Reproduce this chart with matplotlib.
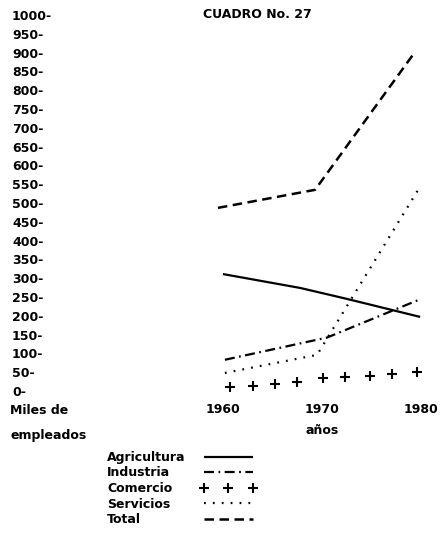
import matplotlib
matplotlib.use('Agg')
import matplotlib.pyplot as plt
from matplotlib.lines import Line2D

plt.rcParams['font.family'] = 'DejaVu Sans'
plt.rcParams['font.weight'] = 'bold'

# values (miles de empleados)
agri_years = [1960, 1967.8, 1972.5, 1979.9]
agri_vals = [311, 274, 245, 197]

ind_years = [1960.2, 1970.5, 1980]
ind_vals = [83, 142, 245]

com_years = [1960.7, 1963.0, 1965.3, 1967.5, 1970.1, 1972.3, 1974.8, 1977.1, 1979.6]
com_vals = [10, 13, 19, 24, 35, 37, 40, 45, 50]

serv_years = [1960.2, 1969.5, 1979.7]
serv_vals = [48, 96, 535]

total_years = [1959.5, 1969.3, 1979.2]
total_vals = [487, 535, 895]

series_names = ['Agricultura', 'Industria', 'Comercio', 'Servicios', 'Total']
x_ticks = [1960, 1970, 1980]
y_ticks = list(range(0, 1001, 50))

fig = plt.figure(figsize=(4.4, 5.41), dpi=100)
ax = fig.add_axes([0.4841, 0.2773, 0.4955, 0.695])

l_agri, = ax.plot(agri_years, agri_vals, color='black', lw=1.6, solid_capstyle='butt')
l_ind, = ax.plot(ind_years, ind_vals, color='black', lw=1.6,
                 linestyle=(0, (4.5, 2.0, 0.8, 2.0)))
l_com, = ax.plot(com_years, com_vals, color='black', linestyle='none',
                 marker='+', markersize=6.5, markeredgewidth=1.5)
l_serv, = ax.plot(serv_years, serv_vals, color='black', lw=1.6,
                  linestyle=(0, (0.8, 3.2)))
l_tot, = ax.plot(total_years, total_vals, color='black', lw=1.8,
                 linestyle=(0, (3.8, 2.2)))

ax.set_xlim(1959, 1981)
ax.set_ylim(0, 1000)
for s in ax.spines.values():
    s.set_visible(False)

ax.set_xticks(x_ticks)
ax.set_xticklabels([str(t) for t in x_ticks], fontsize=9, fontweight='bold')
ax.tick_params(axis='x', length=0, pad=8.5)

ax.set_yticks(y_ticks)
ax.set_yticklabels(['{}-'.format(v) for v in y_ticks], fontsize=9, fontweight='bold')
ax.tick_params(axis='y', length=0, pad=144.7)
for lab in ax.get_yticklabels():
    lab.set_horizontalalignment('left')

fig.text(257 / 440, 1 - 15 / 541, 'CUADRO No. 27', ha='center', va='center',
         fontsize=9, fontweight='bold')
fig.text(10 / 440, 1 - 404 / 541, 'Miles de\nempleados', ha='left', va='top',
         fontsize=9, fontweight='bold', linespacing=2.2)
fig.text(322 / 440, 1 - 430 / 541, 'años', ha='center', va='center',
         fontsize=9, fontweight='bold')

# legend: labels on the left, keys lined up on the right
handles = [l_agri, l_ind, l_com, l_serv, l_tot]
blank = [Line2D([], [], linestyle='none') for _ in handles]
leg_top = 1 - 451 / 541
fig.legend(blank, series_names, loc='upper left', bbox_to_anchor=(107 / 440, leg_top),
           frameon=False, borderpad=0, borderaxespad=0, handlelength=0,
           handletextpad=0, labelspacing=0.2, prop={'size': 9, 'weight': 'bold'})
fig.legend(handles, [''] * 5, loc='upper left', bbox_to_anchor=(200 / 440, leg_top),
           frameon=False, borderpad=0, borderaxespad=0, handlelength=4.5,
           handletextpad=0, labelspacing=0.2, numpoints=3,
           prop={'size': 9, 'weight': 'bold'})

fig.savefig('out.png', dpi=100)
